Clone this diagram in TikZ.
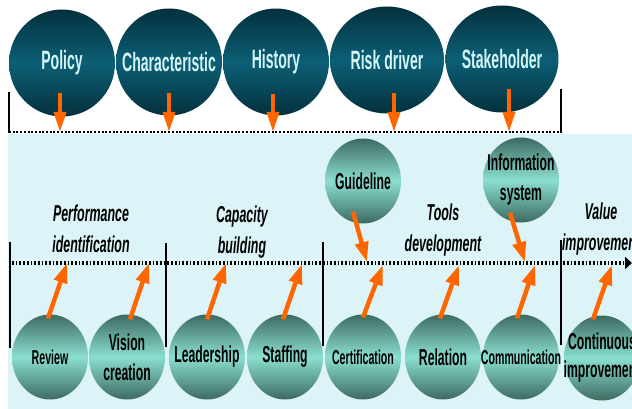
\documentclass[tikz,border=0pt]{standalone}
\usepackage{fontspec}
\usepackage{tikz}
\usetikzlibrary{shapes.geometric,arrows.meta}

\newfontfamily\narrowfont[FakeStretch=0.53]{Liberation Sans}
\newfontfamily\markfont[FakeStretch=0.54]{Liberation Sans}

\definecolor{nightteal}{HTML}{04303D}
\definecolor{seateal}{HTML}{0C5F76}
\definecolor{mossteal}{HTML}{3D6A61}
\definecolor{mint}{HTML}{8ADFD0}
\definecolor{icewater}{HTML}{DCF4F7}
\definecolor{frost}{HTML}{D3F5F5}
\definecolor{flame}{HTML}{FF6600}

\begin{document}
\begin{tikzpicture}[x=1pt, y=-1pt,
  topball/.style={ellipse, minimum width=106pt, minimum height=107pt, inner sep=-25pt, top color=nightteal, bottom color=nightteal, middle color=seateal, text=frost, font=\narrowfont\bfseries\fontsize{26.5}{30}\selectfont},
  lowball/.style={ellipse, minimum width=76pt, minimum height=85pt, inner sep=-25pt, top color=mossteal, bottom color=mossteal, middle color=mint, align=center, font=\narrowfont\bfseries\fontsize{23}{30}\selectfont},
  smallprint/.style={font=\narrowfont\bfseries\fontsize{20}{26}\selectfont},
  phase/.style={align=center, font=\markfont\bfseries\itshape\fontsize{23}{31}\selectfont},
  drop/.style={draw=flame, line width=3.5pt, -{Triangle[length=20pt,width=12pt]}},
  rise/.style={draw=flame, line width=4.5pt, -{Triangle[length=20pt,width=13pt]}},
  fence/.style={line width=2pt}]
	\useasboundingbox (0,0) rectangle (632,409);
	\clip (0,0) rectangle (632,409);

	% background panel
	\fill[icewater] (8,134) rectangle (632,409);

	% bracket under the top row
	\draw[fence] (9,92) -- (9,133);
	\draw[fence] (561,89) -- (561,133);
	\draw[line width=2.3pt, dash pattern=on 2pt off 1.7pt] (9,132) -- (561,132);

	% time line
	\draw[fence] (10,242) -- (10,348);
	\draw[fence] (166,243) -- (166,347);
	\draw[fence] (323,242) -- (323,346);
	\draw[fence] (561,240) -- (561,345);
	\draw[line width=4.3pt, dash pattern=on 1.7pt off 2pt, -{Triangle[length=7pt,width=12pt]}] (12,263) -- (632,263);

	% top row
	\node[topball] (Policy) at (62,63) {Policy};
	\node[topball] (Characteristic) at (169,62) {Characteristic};
	\node[topball] (History) at (276,62) {History};
	\node[topball, minimum width=114pt] (Risk) at (387,60) {Risk driver};
	\node[topball, minimum width=113pt] (Stakeholder) at (502,59) {Stakeholder};

	\coordinate (p1) at (60,132);
	\coordinate (p2) at (169,132);
	\coordinate (p3) at (273,132);
	\coordinate (p4) at (394,132);
	\coordinate (p5) at (509,132);

	\draw[drop] ([xshift=-2pt,yshift=-30pt]Policy.center) -- (p1);
	\draw[drop] ([yshift=-31pt]Characteristic.center) -- (p2);
	\draw[drop] ([xshift=-3pt,yshift=-32pt]History.center) -- (p3);
	\draw[drop] ([xshift=7pt,yshift=-33pt]Risk.center) -- (p4);
	\draw[drop] ([xshift=7pt,yshift=-30pt]Stakeholder.center) -- (p5);

	% phases
	\node[phase] (Performance) at (91,229) {Performance\\identification};
	\node[phase] (Capacity) at (242,232) {Capacity\\building};
	\node[phase] (Tools) at (443,230) {Tools\\development};
	\node[phase] (Value) at (601,229) {Value\\improvement};

	% tools above the line
	\node[lowball] (Guideline) at (363,181) {Guideline};
	\node[lowball] (Information) at (521,180) {Information\\system};

	% activities below the line
	\node[lowball, smallprint] (Review) at (50,357) {Review};
	\node[lowball] (Vision) at (127,357) {Vision\\creation};
	\node[lowball] (Leadership) at (207,357) {Leadership};
	\node[lowball] (Staffing) at (285,357) {Staffing};
	\node[lowball, smallprint] (Certification) at (363,357) {Certification};
	\node[lowball] (Relation) at (443,357) {Relation};
	\node[lowball, smallprint] (Communication) at (521,357) {Communication};
	\node[lowball, font=\narrowfont\bfseries\fontsize{23}{28}\selectfont] (Continuous) at (602,358) {Continuous\\improvement};

	\coordinate (q1) at (67,263);
	\coordinate (q2) at (149,263);
	\coordinate (q3) at (226,263);
	\coordinate (q4) at (302,264);
	\coordinate (q5) at (383,265);
	\coordinate (q6) at (459,265);
	\coordinate (q7) at (535,265);
	\coordinate (q8) at (612,265);
	\coordinate (g1) at (367,262);
	\coordinate (g2) at (525,262);

	\draw[rise] ([xshift=-2pt,yshift=-4pt]Review.north) -- (q1);
	\draw[rise] ([xshift=3pt,yshift=-5pt]Vision.north) -- (q2);
	\draw[rise] ([yshift=-5pt]Leadership.north) -- (q3);
	\draw[rise] ([xshift=-2pt,yshift=-5pt]Staffing.north) -- (q4);
	\draw[rise] ([yshift=-3pt]Certification.north) -- (q5);
	\draw[rise] ([xshift=-3pt,yshift=-4pt]Relation.north) -- (q6);
	\draw[rise] ([xshift=-4pt,yshift=-4pt]Communication.north) -- (q7);
	\draw[rise] ([xshift=-9pt,yshift=-4pt]Continuous.north) -- (q8);
	\draw[rise] ([xshift=-10pt,yshift=12pt]Guideline.south) -- (g1);
	\draw[rise] ([xshift=-11pt,yshift=10pt]Information.south) -- (g2);
\end{tikzpicture}
\end{document}
